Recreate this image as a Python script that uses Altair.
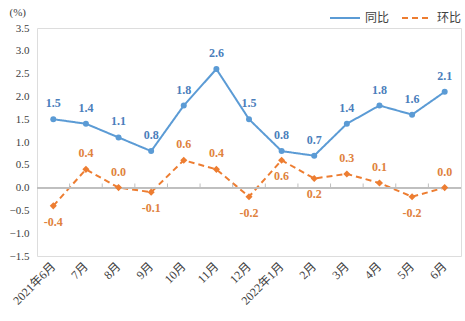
import altair as alt
import pandas as pd

months = ["2021年6月", "7月", "8月", "9月", "10月", "11月", "12月",
          "2022年1月", "2月", "3月", "4月", "5月", "6月"]
yoy = [1.5, 1.4, 1.1, 0.8, 1.8, 2.6, 1.5, 0.8, 0.7, 1.4, 1.8, 1.6, 2.1]
mom = [-0.4, 0.4, 0.0, -0.1, 0.6, 0.4, -0.2, 0.6, 0.2, 0.3, 0.1, -0.2, 0.0]
mom_label_side = ["below", "above", "above", "below", "above", "above", "below",
                  "below", "below", "above", "above", "below", "above"]
series_names = ["同比", "环比"]
y_ticks = [-1.5, -1.0, -0.5, 0.0, 0.5, 1.0, 1.5, 2.0, 2.5, 3.0, 3.5]

rows = []
for i, m in enumerate(months):
    rows.append({"month": m, "value": yoy[i], "series": "同比", "side": "above",
                 "label": f"{yoy[i]:.1f}"})
    rows.append({"month": m, "value": mom[i], "series": "环比", "side": mom_label_side[i],
                 "label": f"{mom[i]:.1f}"})
df = pd.DataFrame(rows)

BLUE = "#5B9BD5"
ORANGE = "#ED7D31"
FONT = "Liberation Serif, Noto Sans CJK SC"

x_scale = alt.Scale(paddingInner=0, paddingOuter=0)
x_axis = alt.Axis(title=None, labelAngle=-45, labelFont=FONT, labelFontSize=12,
                  labelColor="#404040", domain=False, ticks=False, labelPadding=8,
                  labelAlign="right", labelBaseline="middle")
x_enc = alt.X("month:N", sort=months, scale=x_scale, axis=x_axis)
y_axis = alt.Axis(title="(%)", titleAngle=0, titleX=-28, titleY=-16,
                  titleAlign="left", titleBaseline="middle", titleFont=FONT,
                  titleFontSize=11, titleFontWeight="normal", titleColor="#404040",
                  values=y_ticks, labelOverlap=False,
                  format=".1f", grid=False, domain=False, ticks=False,
                  labelFont=FONT, labelFontSize=11, labelColor="#404040",
                  labelPadding=8)
y_scale = alt.Scale(domain=[-1.5, 3.5], nice=False)
y_enc = alt.Y("value:Q", scale=y_scale, axis=y_axis)

legend_cfg = dict(title=None, orient="none", direction="horizontal",
                  legendX=292, legendY=-26, labelFont=FONT,
                  labelFontSize=12, labelColor="#404040",
                  symbolType="stroke", symbolSize=900,
                  symbolStrokeWidth=2, columnPadding=8)

base = alt.Chart(df)

lines = base.mark_line(strokeWidth=2).encode(
    x=x_enc, y=y_enc,
    color=alt.Color("series:N", sort=series_names,
                    scale=alt.Scale(domain=series_names, range=[BLUE, ORANGE]),
                    legend=alt.Legend(**legend_cfg)),
    strokeDash=alt.StrokeDash("series:N", sort=series_names,
                              scale=alt.Scale(domain=series_names, range=[[1, 0], [6, 4]]),
                              legend=alt.Legend(**legend_cfg)),
)

zero_line = base.mark_rule(color="#BFBFBF", strokeWidth=1).encode(
    y=alt.YDatum(0.0, type="quantitative", scale=y_scale, axis=y_axis))

zero_ticks = alt.Chart(pd.DataFrame({"month": months[1:]})).mark_rule(
    color="#BFBFBF", strokeWidth=1).encode(
    x=alt.X("month:N", sort=months, bandPosition=0, scale=x_scale, axis=x_axis),
    y=alt.YDatum(0.0, type="quantitative", scale=y_scale, axis=y_axis),
    y2=alt.datum(0.09),
)

blue_pts = base.transform_filter(alt.datum.series == "同比").mark_point(
    filled=True, shape="circle", size=36, color=BLUE, opacity=1).encode(x=x_enc, y=y_enc)
orange_pts = base.transform_filter(alt.datum.series == "环比").mark_point(
    filled=True, shape="diamond", size=50, color=ORANGE, opacity=1).encode(x=x_enc, y=y_enc)

blue_text = base.transform_filter(alt.datum.series == "同比").mark_text(
    dy=-16, font=FONT, fontSize=12, fontWeight="bold", color="#4A7EBB").encode(
    x=x_enc, y=y_enc, text="label:N")
orange_above = base.transform_filter(
    (alt.datum.series == "环比") & (alt.datum.side == "above")).mark_text(
    dy=-16, font=FONT, fontSize=12, fontWeight="bold", color="#E0823D").encode(
    x=x_enc, y=y_enc, text="label:N")
orange_below = base.transform_filter(
    (alt.datum.series == "环比") & (alt.datum.side == "below")).mark_text(
    dy=16, font=FONT, fontSize=12, fontWeight="bold", color="#E0823D").encode(
    x=x_enc, y=y_enc, text="label:N")

chart = alt.layer(lines, zero_line, zero_ticks, blue_pts, orange_pts, blue_text,
                  orange_above, orange_below).properties(
    width=424, height=228,
    padding={"left": 37, "top": 28, "right": 4, "bottom": 65},
    autosize=alt.AutoSizeParams(type="none"),
).configure_view(stroke="#D9D9D9", strokeWidth=1).configure(background="white")

chart.save("out.html", embed_options={"renderer": "svg", "actions": False})
